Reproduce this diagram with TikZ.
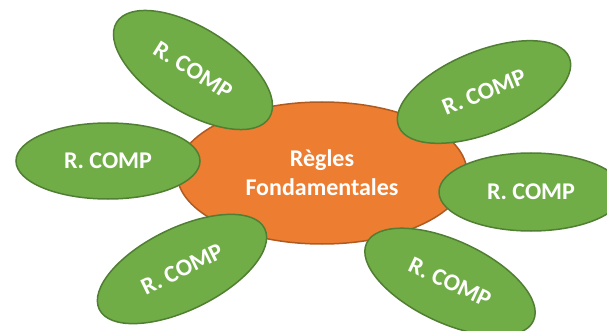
\documentclass[tikz,border=0pt]{standalone}
\usepackage{fontspec}
\setmainfont{Carlito}
\usepackage{tikz}
\usetikzlibrary{shapes, positioning}
\definecolor{leafgreen}{HTML}{70AD47}
\definecolor{leafedge}{HTML}{507E32}
\definecolor{coreorange}{HTML}{ED7D31}
\definecolor{coreedge}{HTML}{AE5A21}

\begin{document}
\begin{tikzpicture}[x=1pt, y=-1pt,
		core/.style={ellipse, draw=coreedge, fill=coreorange, line width=1.5pt, inner sep=0pt, minimum width=290pt, minimum height=142pt, text=white, align=center, font=\fontsize{24}{29}\selectfont\bfseries},
		leaf/.style={ellipse, draw=leafedge, fill=leafgreen, line width=1.5pt, inner sep=0pt, minimum width=184pt, minimum height=82pt, text=white, font=\fontsize{24}{29}\selectfont\bfseries}]
		\useasboundingbox (0,0) rectangle (607,331);
		\clip (0,0) rectangle (607,331);
		% centre
		\node[core] (regles) at (322,173) {Règles\\Fondamentales};
		% satellites
		\node[leaf, rotate=-32, minimum width=180pt, minimum height=84pt] (comphg) at (193,70) {R. COMP};
		\node[leaf, rotate=22] (comphd) at (484,92) {R. COMP};
		\node[leaf, minimum height=76pt] (compg) at (108,161) {R. COMP};
		\node[leaf, minimum height=78pt] (compd) at (531,192) {R. COMP};
		\node[leaf, rotate=26] (compbg) at (182,269) {R. COMP};
		\node[leaf, rotate=-25] (compbd) at (450,282) {R. COMP};
\end{tikzpicture}
\end{document}
